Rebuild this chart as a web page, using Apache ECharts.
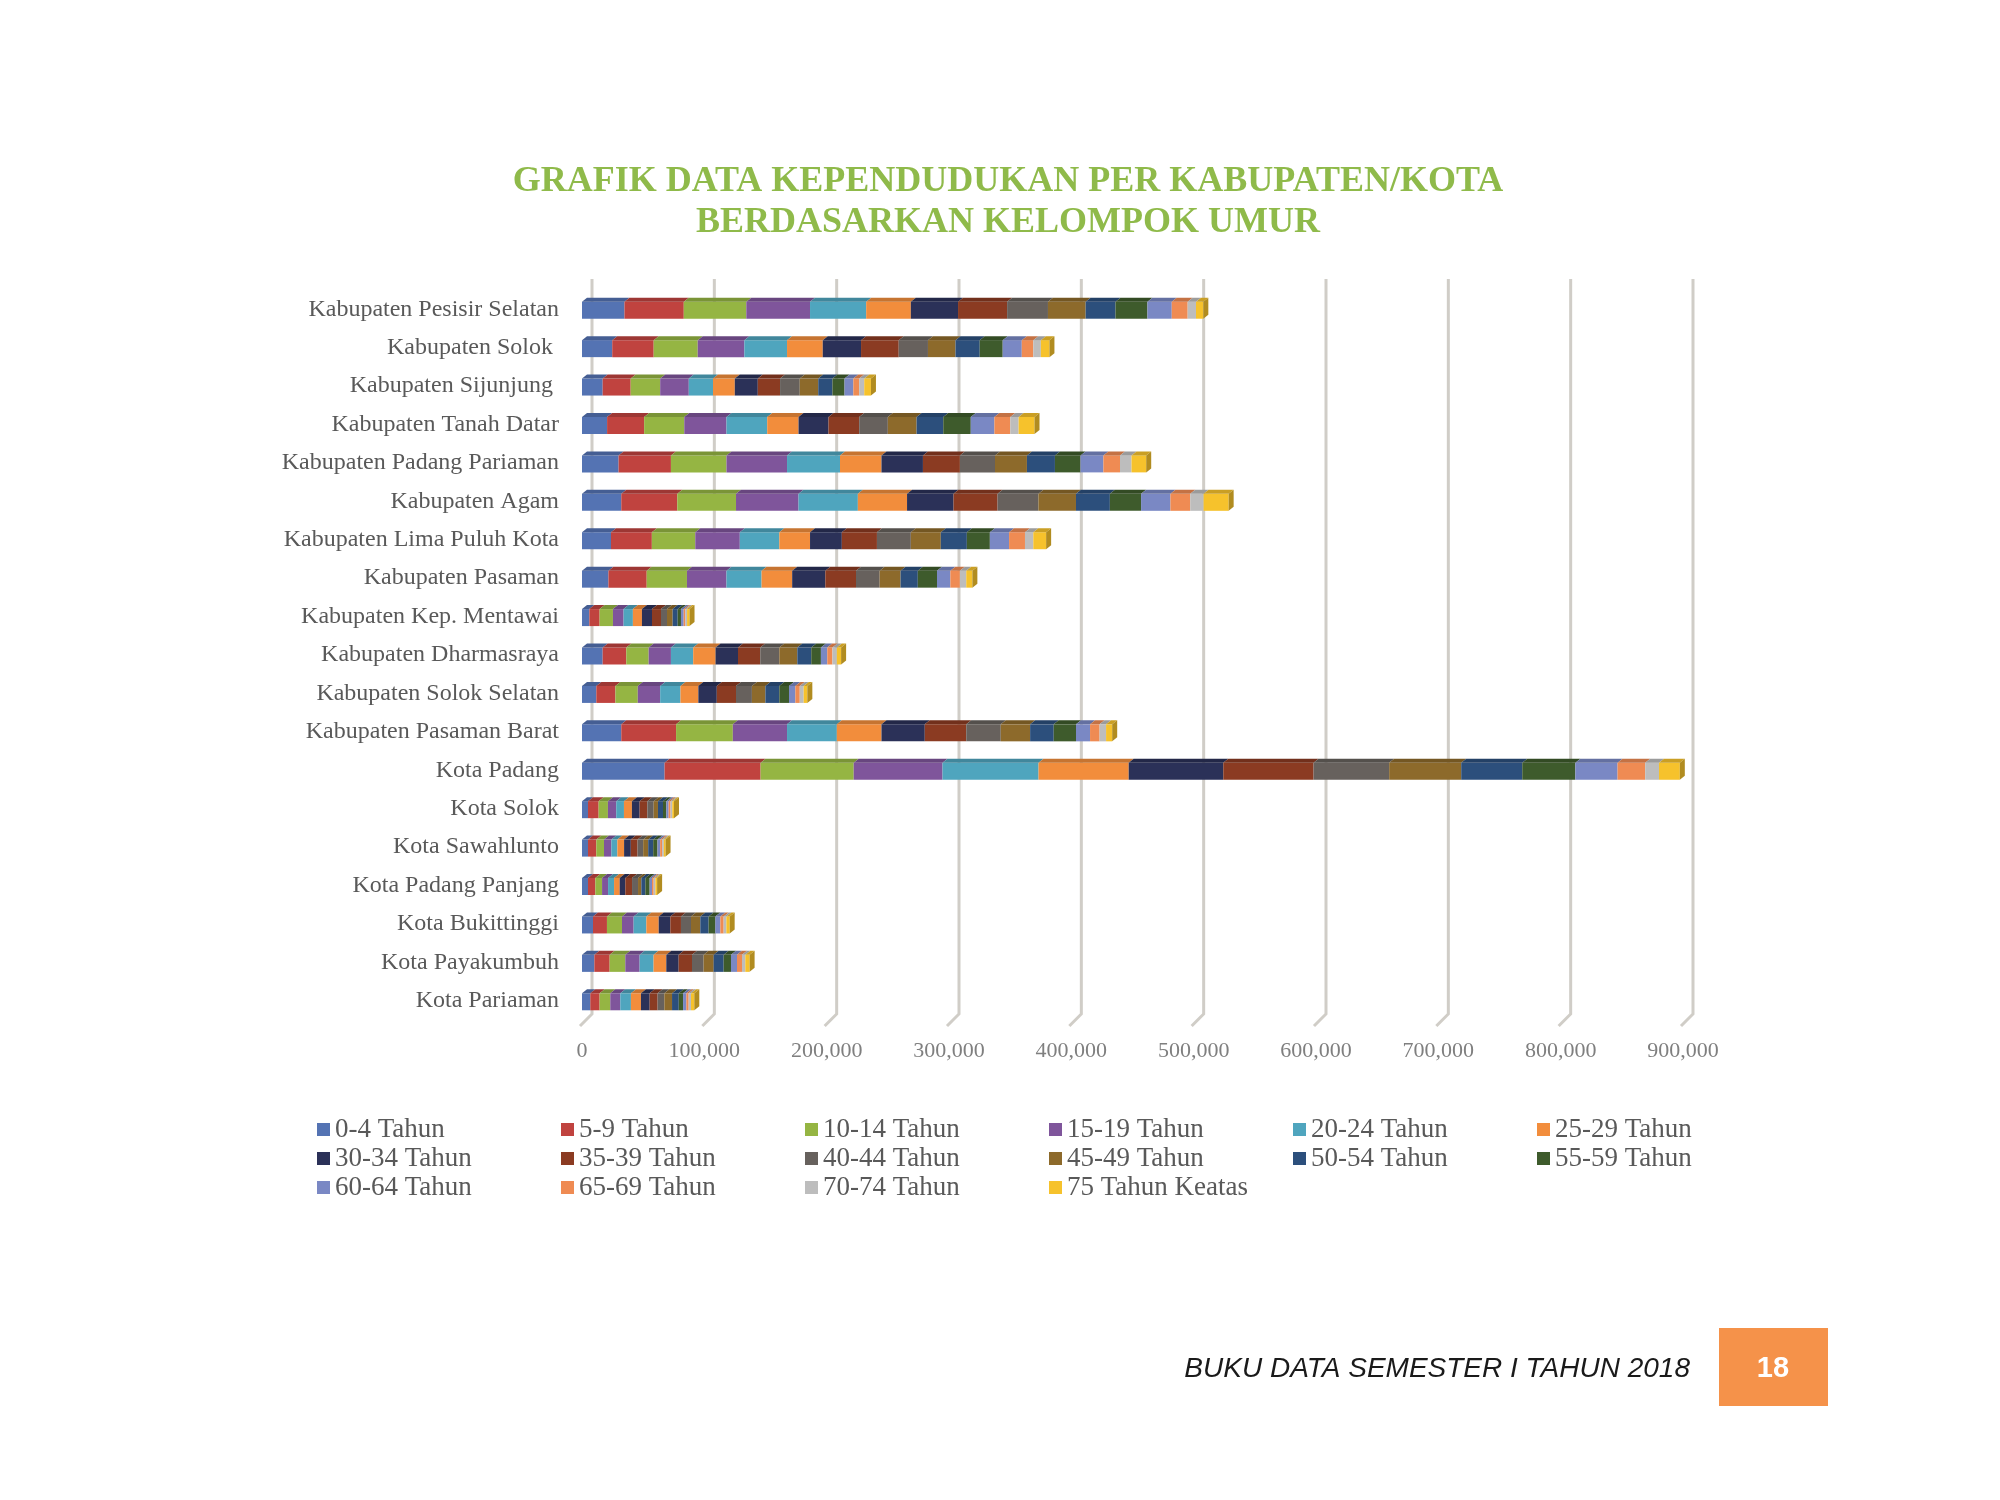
<!DOCTYPE html>
<html>
<head>
<meta charset="utf-8">
<script src="https://cdn.jsdelivr.net/npm/echarts@6.0.0/dist/echarts.min.js"></script>
<style>
  html, body { margin: 0; padding: 0; background: #fff; }
  #chart { width: 2000px; height: 1500px; }
</style>
</head>
<body>
<div id="chart"></div>
<script>
var wilayah = ['Kabupaten Pesisir Selatan', 'Kabupaten Solok ', 'Kabupaten Sijunjung ', 'Kabupaten Tanah Datar',
  'Kabupaten Padang Pariaman', 'Kabupaten Agam', 'Kabupaten Lima Puluh Kota', 'Kabupaten Pasaman',
  'Kabupaten Kep. Mentawai', 'Kabupaten Dharmasraya', 'Kabupaten Solok Selatan', 'Kabupaten Pasaman Barat',
  'Kota Padang', 'Kota Solok', 'Kota Sawahlunto', 'Kota Padang Panjang', 'Kota Bukittinggi',
  'Kota Payakumbuh', 'Kota Pariaman'];

var kelompok = ['0-4 Tahun', '5-9 Tahun', '10-14 Tahun', '15-19 Tahun', '20-24 Tahun', '25-29 Tahun',
  '30-34 Tahun', '35-39 Tahun', '40-44 Tahun', '45-49 Tahun', '50-54 Tahun', '55-59 Tahun',
  '60-64 Tahun', '65-69 Tahun', '70-74 Tahun', '75 Tahun Keatas'];

var warna = ['#5473b3', '#c0433f', '#95b543', '#7f559b', '#4fa5be', '#f28d3c', '#2b3158', '#8b3b22',
  '#67615d', '#8d6a2b', '#2c4f7c', '#3e5b2c', '#7a88c4', '#ef8b53', '#bdbdbd', '#f6c22c'];

// penduduk per kelompok umur, urut sesuai wilayah
var u0_4   = [34700, 24700, 16900, 20500, 29900, 32100, 23700, 21600, 6000, 16900, 11700, 32100, 67500, 4900, 4900, 4900, 9000, 10100, 6800];
var u5_9   = [48500, 33900, 22900, 30300, 42800, 45800, 33400, 31300, 8400, 19300, 15600, 44800, 78500, 8700, 6800, 6000, 11400, 12500, 7600];
var u10_14 = [51100, 36000, 24100, 32800, 45400, 48000, 35500, 32900, 10900, 18300, 18300, 46400, 76100, 7600, 6300, 5500, 12300, 12800, 8700];
var u15_19 = [52100, 38100, 23400, 34500, 49500, 51100, 36400, 32300, 8700, 18200, 18300, 44300, 72600, 6800, 6000, 4900, 9500, 11700, 8200];
var u20_24 = [45900, 34900, 19800, 33300, 43300, 48500, 32300, 28700, 7600, 18200, 16600, 40700, 78500, 6300, 4900, 4900, 10400, 11400, 8700];
var u25_29 = [36500, 29200, 17800, 25600, 33900, 40200, 25100, 25000, 7400, 18300, 14600, 36500, 73700, 6500, 5500, 4600, 10100, 10400, 8200];
var u30_34 = [38600, 31300, 18800, 24500, 33900, 38000, 26000, 27100, 8200, 18300, 15100, 35400, 77300, 6300, 5500, 4600, 9500, 10100, 7100];
var u35_39 = [40100, 30800, 18200, 25100, 30200, 36000, 28700, 25100, 7400, 18200, 15700, 33900, 73800, 6300, 5500, 5500, 8700, 10900, 6500];
var u40_44 = [33400, 23900, 16100, 23400, 28700, 33400, 27700, 19300, 4900, 15600, 13000, 28200, 61800, 5200, 4600, 4900, 8200, 9500, 5500];
var u45_49 = [30800, 22500, 15100, 23500, 26100, 30700, 24500, 17100, 4600, 14700, 11000, 24000, 58900, 3500, 4100, 2700, 7600, 8200, 6300];
var u50_54 = [24400, 19800, 11600, 21800, 22900, 27700, 21300, 14100, 4100, 11400, 11400, 19300, 49900, 4100, 4100, 3300, 6800, 8200, 5500];
var u55_59 = [26100, 18800, 9900, 22500, 20900, 25500, 18800, 15700, 2700, 7900, 7900, 18200, 43400, 2700, 3500, 3500, 5500, 6000, 3500];
var u60_64 = [19900, 15600, 7200, 19300, 18700, 24000, 15700, 10900, 2200, 5200, 5200, 11500, 34500, 1900, 2200, 1900, 4100, 4900, 2700];
var u65_69 = [13000, 9400, 4800, 13000, 13600, 16200, 13000, 7800, 1400, 4200, 3600, 7800, 22600, 1600, 1600, 1400, 2700, 4100, 1900];
var u70_74 = [6800, 6200, 4100, 6800, 9400, 10900, 6800, 5200, 1400, 3600, 3200, 5300, 11300, 1400, 1400, 1400, 2200, 2700, 1900];
var u75    = [6000, 7000, 5500, 13000, 12000, 20500, 10500, 5000, 2000, 3500, 3000, 5000, 17000, 1400, 1400, 1400, 2700, 3500, 2700];

var nilai = [u0_4, u5_9, u10_14, u15_19, u20_24, u25_29, u30_34, u35_39, u40_44, u45_49, u50_54, u55_59, u60_64, u65_69, u70_74, u75];

var xTicks = [0, 100000, 200000, 300000, 400000, 500000, 600000, 700000, 800000, 900000];

var chart = echarts.init(document.getElementById('chart'));

function shade(hex, f) {
  var n = parseInt(hex.slice(1), 16);
  var r = Math.round(((n >> 16) & 255) * f), g = Math.round(((n >> 8) & 255) * f), b = Math.round((n & 255) * f);
  return 'rgb(' + r + ',' + g + ',' + b + ')';
}

var DX = 5, DY = 4;
var awal = wilayah.map(function () { return 0; });

var series = kelompok.map(function (nama, k) {
  var data = nilai[k].map(function (v, i) {
    var s = awal[i];
    awal[i] += v;
    return [s, s + v, i];
  });
  var last = k === kelompok.length - 1;
  return {
    name: nama,
    type: 'custom',
    coordinateSystem: 'cartesian2d',
    encode: { x: [0, 1], y: 2 },
    itemStyle: { color: warna[k] },
    z: 3,
    data: data,
    renderItem: function (params, api) {
      var p0 = api.coord([api.value(0), api.value(2)]);
      var p1 = api.coord([api.value(1), api.value(2)]);
      var h = 17;
      var x0 = p0[0], x1 = p1[0];
      var yTop = p0[1] - h / 2 + 1, yBot = yTop + h;
      var c = warna[k];
      var kids = [{
        type: 'rect',
        shape: { x: x0, y: yTop, width: x1 - x0, height: h },
        style: { fill: c }
      }, {
        type: 'polygon',
        shape: { points: [[x0, yTop], [x1, yTop], [x1 + DX, yTop - DY], [x0 + DX, yTop - DY]] },
        style: { fill: shade(c, 0.82) }
      }];
      if (last) {
        kids.push({
          type: 'polygon',
          shape: { points: [[x1, yTop], [x1 + DX, yTop - DY], [x1 + DX, yBot - DY], [x1, yBot]] },
          style: { fill: shade(c, 0.72) }
        });
      }
      return { type: 'group', children: kids };
    }
  };
});

// garis grid dinding belakang (efek 3D)
series.push({
  name: 'grid',
  type: 'custom',
  coordinateSystem: 'cartesian2d',
  encode: { x: 0, y: 1 },
  silent: true,
  z: 1,
  data: xTicks.map(function (v) { return [v, 0]; }),
  renderItem: function (params, api) {
    var x = api.coord([api.value(0), 0])[0];
    var cs = params.coordSys;
    var yb = cs.y + cs.height;
    return {
      type: 'polyline',
      shape: { points: [[x + 10, cs.y - 11], [x + 10, yb - 6], [x - 2, yb + 6]] },
      style: { stroke: '#d0cdc7', lineWidth: 3, fill: null }
    };
  }
});

var option = {
  backgroundColor: '#ffffff',
  animation: false,
  grid: { left: 582, top: 290, width: 1101, height: 730, containLabel: false, outerBoundsMode: 'none' },
  xAxis: {
    type: 'value',
    min: 0,
    max: 900000,
    interval: 100000,
    axisLine: { show: false },
    axisTick: { show: false },
    splitLine: { show: false },
    axisLabel: { color: '#7f7f7f', fontFamily: 'Liberation Serif', fontSize: 22, margin: 20 }
  },
  yAxis: {
    type: 'category',
    inverse: true,
    data: wilayah,
    axisLine: { show: false },
    axisTick: { show: false },
    axisLabel: { color: '#595959', fontFamily: 'Liberation Serif', fontSize: 24, margin: 23 }
  },
  legend: {
    data: kelompok,
    left: 317,
    top: 1115,
    width: 1470,
    orient: 'horizontal',
    icon: 'rect',
    itemWidth: 13,
    itemHeight: 13,
    itemGap: 0,
    padding: 0,
    selectedMode: false,
    textStyle: { color: '#595959', fontFamily: 'Liberation Serif', fontSize: 27, width: 226, lineHeight: 29 }
  },
  graphic: [{
    type: 'text',
    x: 1008,
    y: 161,
    style: {
      text: 'GRAFIK DATA KEPENDUDUKAN PER KABUPATEN/KOTA\nBERDASARKAN KELOMPOK UMUR',
      font: 'bold 36px "Liberation Serif"',
      fill: '#8fba4a',
      textAlign: 'center',
      textVerticalAlign: 'top',
      lineHeight: 41
    }
  }, {
    type: 'text',
    x: 1690,
    y: 1369,
    style: {
      text: 'BUKU DATA SEMESTER I TAHUN 2018',
      font: 'italic 28px "Liberation Sans"',
      fill: '#1a1a1a',
      textAlign: 'right',
      textVerticalAlign: 'middle'
    }
  }, {
    type: 'rect',
    shape: { x: 1719, y: 1328, width: 109, height: 78 },
    style: { fill: '#f5924a' }
  }, {
    type: 'text',
    x: 1773,
    y: 1369,
    z: 10,
    style: {
      text: '18',
      font: 'bold 29px "Liberation Sans"',
      fill: '#ffffff',
      textAlign: 'center',
      textVerticalAlign: 'middle'
    }
  }],
  series: series
};

chart.setOption(option);

window.addEventListener('resize', function () {
  chart.resize();
});
</script>
</body>
</html>
